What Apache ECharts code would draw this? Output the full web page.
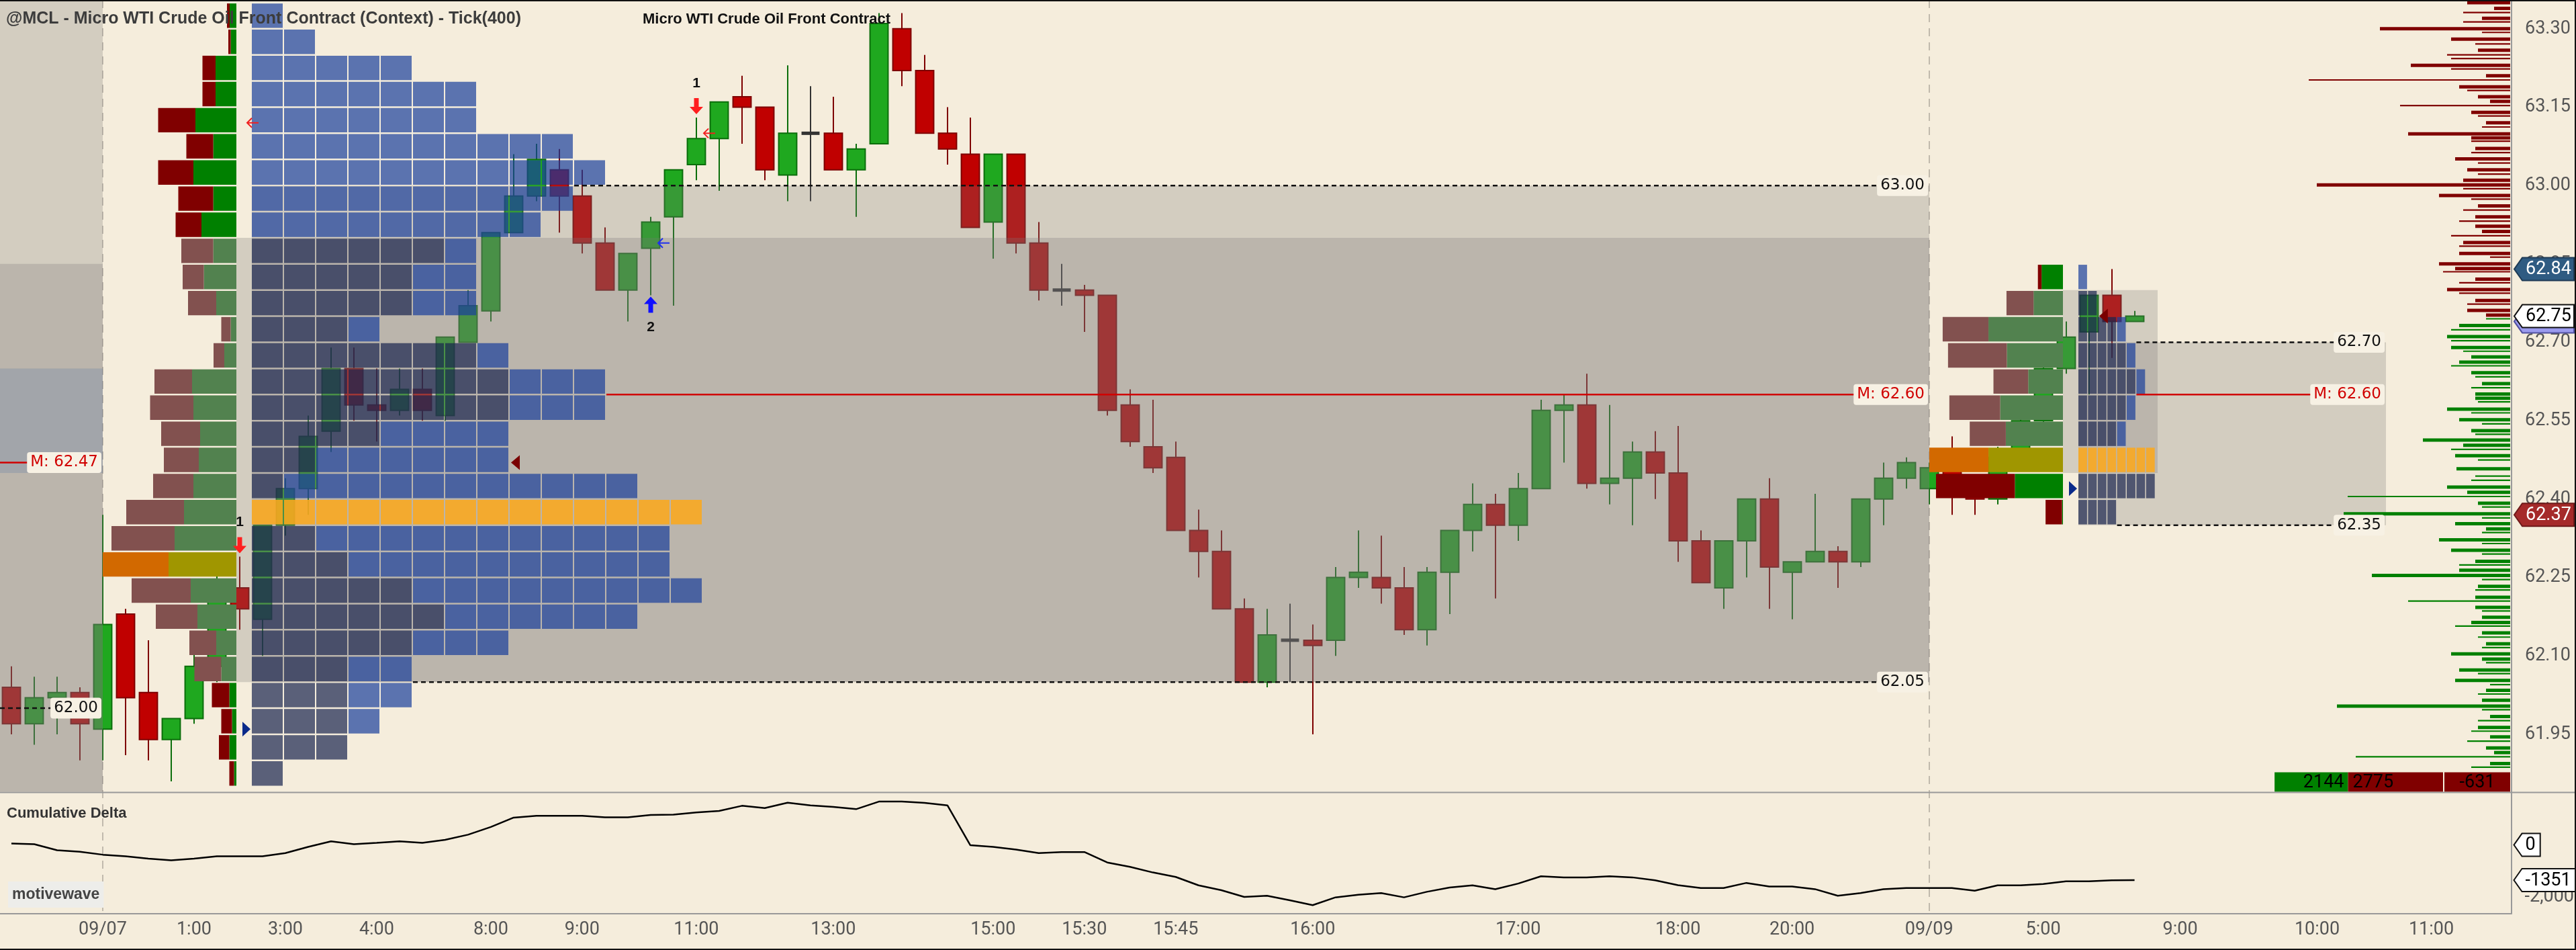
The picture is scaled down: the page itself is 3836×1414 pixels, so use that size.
<!DOCTYPE html>
<html><head><meta charset="utf-8">
<script src="https://cdn.jsdelivr.net/npm/echarts@6/dist/echarts.min.js"></script>
<style>html,body{margin:0;padding:0;background:#F5EDDC}#c{width:3836px;height:1414px}</style>
</head><body><div id="c"></div>
<script>
// ================= DATA =================
const tickSlots  = [4, 8, 12, 16, 21, 25, 30, 36, 43, 47, 51, 57, 66, 73, 78, 84, 89, 95, 101, 106];
const tickLabels = ['09/07','1:00','3:00','4:00','8:00','9:00','11:00','13:00','15:00','15:30','15:45','16:00','17:00','18:00','20:00','09/09','5:00','9:00','10:00','11:00'];
const SLOT_COUNT = 110;

const open = [62.04,61.97,62.02,62.03,61.96,62.18,62.03,61.94,61.98,62.08, 62.23,62.17,62.35,62.42,62.53,62.65,62.58,62.57,62.61,62.56,
 62.70,62.76,62.91,62.98,63.03,62.98,62.89,62.80,62.88,62.94, 63.04,63.09,63.17,63.15,63.02,63.10,63.10,63.03,63.08,63.30,
 63.22,63.10,63.06,62.93,63.06,62.89,62.80,62.80,62.79,62.58, 62.50,62.48,62.34,62.30,62.19,62.05,62.13,62.13,62.13,62.25,
 62.25,62.23,62.15,62.26,62.34,62.39,62.35,62.42,62.57,62.58, 62.43,62.44,62.49,62.45,62.32,62.23,62.32,62.40,62.26,62.28,
 62.30,62.28,62.40,62.44,62.42,62.46,62.42,62.40,62.48,62.55, 62.65,62.72,62.79,62.74];
const high = [62.08,62.06,62.06,62.04,62.37,62.19,62.13,61.98,62.11,62.26, 62.29,62.35,62.44,62.56,62.69,62.69,62.65,62.65,62.65,62.71,
 62.80,62.91,63.06,63.08,63.07,63.03,62.92,62.87,62.94,63.03, 63.13,63.16,63.21,63.15,63.23,63.19,63.17,63.08,63.33,63.33,
 63.25,63.15,63.13,63.06,63.06,62.93,62.85,62.81,62.79,62.61, 62.59,62.51,62.38,62.34,62.21,62.19,62.20,62.16,62.27,62.34,
 62.33,62.27,62.27,62.34,62.43,62.41,62.45,62.59,62.60,62.64, 62.58,62.51,62.53,62.54,62.34,62.32,62.40,62.44,62.28,62.41,
 62.31,62.40,62.47,62.48,62.47,62.52,62.44,62.50,62.58,62.66, 62.74,62.79,62.84,62.76];
const low = [61.95,61.93,61.95,61.90,61.90,61.91,61.90,61.86,61.97,62.05, 62.15,62.10,62.33,62.37,62.49,62.55,62.51,62.56,62.55,62.55,
 62.70,62.74,62.91,62.97,62.91,62.87,62.80,62.74,62.79,62.77, 63.01,62.99,63.08,63.01,62.97,62.97,63.03,62.94,63.08,63.19,
 63.10,63.04,62.92,62.86,62.87,62.78,62.77,62.72,62.56,62.50, 62.45,62.34,62.25,62.19,62.05,62.04,62.05,61.95,62.10,62.23,
 62.20,62.14,62.12,62.18,62.30,62.21,62.32,62.42,62.47,62.42, 62.39,62.35,62.40,62.28,62.24,62.19,62.25,62.19,62.17,62.28,
 62.23,62.27,62.35,62.42,62.39,62.37,62.37,62.39,62.46,62.53, 62.64,62.60,62.67,62.74];
const close = [61.97,62.02,62.03,61.97,62.16,62.02,61.94,61.98,62.08,62.23, 62.19,62.35,62.42,62.52,62.65,62.58,62.57,62.61,62.57,62.71,
 62.77,62.91,62.98,63.05,62.98,62.89,62.80,62.87,62.93,63.03, 63.09,63.16,63.15,63.03,63.10,63.10,63.03,63.07,63.31,63.22,
 63.10,63.07,62.92,63.06,62.89,62.80,62.80,62.79,62.57,62.51, 62.46,62.34,62.30,62.19,62.05,62.14,62.13,62.12,62.25,62.26,
 62.23,62.15,62.26,62.34,62.39,62.35,62.42,62.57,62.58,62.43, 62.44,62.49,62.45,62.32,62.24,62.32,62.40,62.27,62.28,62.30,
 62.28,62.40,62.44,62.47,62.46,62.42,62.40,62.48,62.55,62.65, 62.71,62.79,62.74,62.75];

const cumDelta = [51,26,-205,-264,-375,-435,-529,-588,-529,-435, -435,-435,-315,-77,136,26,77,136,77,196,
 392,690,1049,1117,1117,1117,1057,1057,1151,1160, 1245,1304,1501,1415,1620,1518,1458,1373,1662,1662,
 1611,1518,-8,-77,-179,-315,-273,-273,-673,-844, -1057,-1228,-1552,-1739,-1995,-1952,-2123,-2310,-2012,-1910,
 -1850,-2012,-1799,-1637,-1552,-1697,-1484,-1202,-1245,-1245, -1202,-1245,-1356,-1543,-1654,-1654,-1458,-1594,-1594,-1697,
 -1952,-1850,-1697,-1654,-1654,-1654,-1756,-1552,-1552,-1501, -1399,-1399,-1356,-1351];

// sessions (slot indices / prices)
const sessionStartSlot = [4, 84];
const sessionShadeEnd  = [84, 94];
const sessionLineEnd   = [84, 104];
const sessionVA    = [[62.05, 62.90], [62.45, 62.80]];
const sessionRange = [[62.05, 63.00], [62.35, 62.70]];
const sessionMid   = [62.60, 62.60];

// 09/07 profile rows (row low price), bid/ask volume, TPO counts, early-period TPO counts
const s1RowLow = [63.30,63.25,63.20,63.15,63.10,63.05,63.00,62.95,62.90,62.85,62.80,62.75,62.70,62.65,62.60,62.55,62.50,62.45,62.40,62.35,62.30,62.25,62.20,62.15,62.10,62.05,62.00,61.95,61.90,61.85];
const s1Bid = [8,7,39,39,111,80,105,104,77,95,63,84,28,32,112,129,116,104,120,172,188,196,176,124,80,80,52,32,31,14];
const s1Ask = [20,17,62,62,122,69,128,69,104,69,97,60,17,36,132,128,108,112,128,156,184,202,136,116,60,45,21,13,21,7];
const s1Tpo = [1,2,5,7,7,10,11,10,9,7,7,7,4,8,11,11,8,8,12,14,13,13,14,12,8,5,5,4,3,1];
const s1TpoEarly = [0,0,0,0,0,0,0,0,0,6,5,5,3,7,8,8,4,2,1,0,2,3,5,6,5,3,3,3,3,1];
// 09/09 profile
const s2RowLow = [62.80,62.75,62.70,62.65,62.60,62.55,62.50,62.45,62.40,62.35];
const s2Bid = [11,81,137,176,104,152,108,177,236,49];
const s2Ask = [64,88,223,168,104,188,171,223,144,3];
const s2Tpo = [1,2,5,6,7,6,5,8,8,4];
const s2TpoEarly = [0,2,4,5,6,5,4,0,8,4];

// previous session context (left edge)
const prevSessionEnd = 4;
const prevShadeBands = [[61.84, 63.355], [61.84, 62.85]];
const prevTintBand = [62.45, 62.65];
const prevMid = 62.47;
const prevLow = 62.00;

// signals
const signalSlots = [10, 30, 28];
const signalSides = ['sell', 'sell', 'buy'];
const signalNames = ['1', '1', '2'];
const signalRefPrice = [63.12, 63.10, 62.89];

// price ladder (size in lots)
const askDepthMain = [[63.350,32],[63.339,12],[63.320,21],[63.300,97],[63.280,44],[63.259,24],[63.230,74],[63.210,18],[63.189,38],[63.170,24],[63.161,15],[63.140,29],[63.120,18],[63.099,76],[63.091,29],[63.071,26],[63.051,41],[63.030,32],[63.010,35],[63.001,144],[62.981,53],[62.961,24],[62.940,26],[62.922,26],[62.912,21],[62.891,35],[62.870,38],[62.850,53],[62.841,41],[62.821,26],[62.801,47],[62.780,26],[62.761,32],[62.752,18]];
const askDepthThin = [[63.331,35],[63.313,35],[63.293,21],[63.271,26],[63.250,47],[63.243,44],[63.223,44],[63.202,150],[63.182,32],[63.153,82],[63.133,24],[63.112,21],[63.085,29],[63.063,29],[63.043,24],[63.022,24],[62.994,35],[62.974,29],[62.953,35],[62.932,38],[62.904,44],[62.884,38],[62.863,15],[62.835,50],[62.814,38],[62.794,38],[62.773,32]];
const bidDepthMain = [[62.732,38],[62.711,47],[62.690,44],[62.672,29],[62.662,38],[62.642,29],[62.621,21],[62.601,26],[62.593,26],[62.572,47],[62.552,38],[62.531,29],[62.513,65],[62.503,35],[62.483,41],[62.458,40],[62.423,47],[62.413,32],[62.392,24],[62.372,124],[62.353,41],[62.343,18],[62.322,53],[62.302,44],[62.281,26],[62.264,38],[62.254,103],[62.233,24],[62.212,26],[62.193,26],[62.174,21],[62.164,29],[62.144,21],[62.123,18],[62.104,44],[62.094,21],[62.073,38],[62.053,41],[62.034,18],[62.015,21],[62.004,129],[61.984,15],[61.963,24],[61.945,15],[61.924,18],[61.915,12],[61.894,15]];
const bidDepthThin = [[62.745,18],[62.724,44],[62.703,44],[62.683,35],[62.655,44],[62.634,26],[62.613,29],[62.586,24],[62.565,29],[62.544,21],[62.524,26],[62.495,44],[62.475,24],[62.444,26],[62.436,29],[62.405,121],[62.385,21],[62.364,21],[62.336,21],[62.315,21],[62.295,21],[62.274,38],[62.246,21],[62.226,26],[62.205,76],[62.186,21],[62.157,41],[62.136,24],[62.116,21],[62.087,18],[62.066,24],[62.045,15],[62.027,24],[61.997,21],[61.976,24],[61.956,29],[61.937,32],[61.907,115],[61.887,29]];

const sessionBuys = 2144, sessionSells = 2775;
const vwapTagPrice = 62.74;

// ================= LAYOUT / STYLE =================
const ROW = 0.05;
const PANEL_FLOOR = 61.84;
const PROFILE_W = 199, BOX_OFFSET = 23;
const TPO_PITCH = [48, 14.4];
const FONT = '"DejaVu Sans"';
const AXFONT = 'Roboto';
const SHADE = 'rgba(122,120,117,0.27)';
const C = {
  up:'#1FA81F', upLine:'#0B6E0B', dn:'#C00000', dnLine:'#7E0000', doji:'#333333',
  bidV:'#800000', askV:'#008000', bidM:'#82514F', askM:'#52824F', pocL:'#D26900', pocR:'#A09600',
  tpo:'rgba(25,63,155,0.7)', tpoEarly:'rgba(24,36,78,0.7)', tpoPoc:'rgba(250,168,30,0.88)'
};

const categories = Array.from({length: SLOT_COUNT}, (_, i) => {
  const k = tickSlots.indexOf(i); return k >= 0 ? tickLabels[k] : '';
});
const sessionRows = [s1RowLow, s2RowLow];
const sessionBid = [s1Bid, s2Bid], sessionAsk = [s1Ask, s2Ask];
const sessionTpo = [s1Tpo, s2Tpo], sessionEarly = [s1TpoEarly, s2TpoEarly];

const mctx = document.createElement('canvas').getContext('2d');
function tw(t, font){ mctx.font = font; return mctx.measureText(t).width; }
const eq = (a, b) => Math.abs(a - b) < 1e-6;

function H(params, api){
  const x0 = api.coord([0, 62.5])[0];
  const band = api.size([1, 0])[0];
  return { X: s => x0 + s * band, Y: p => api.coord([0, p])[1], band, cs: params.coordSys };
}
const R = (x, y, w, h, fill, extra) => ({type:'rect', shape:{x, y, width:w, height:h}, style:Object.assign({fill}, extra || {})});

function anchorOf(h, k){ return h.X(sessionStartSlot[k]) + PROFILE_W; }
function boxStartOf(h, k){ return anchorOf(h, k) + BOX_OFFSET; }
function tpoPocIndex(k){
  const t = sessionTpo[k], rows = sessionRows[k];
  const mid = (rows[0] + rows[rows.length-1]) / 2;
  let best = 0;
  t.forEach((v, i) => { if (v > t[best] || (v === t[best] && Math.abs(rows[i]-mid) < Math.abs(rows[best]-mid))) best = i; });
  return best;
}
function deltaPocIndex(k){
  const b = sessionBid[k], a = sessionAsk[k];
  let best = 0; b.forEach((v, i) => { if (v + a[i] > b[best] + a[best]) best = i; }); return best;
}
function levelRowCount(k, level){
  const rows = sessionRows[k], t = sessionTpo[k];
  const below = rows.findIndex(r => eq(r + ROW, level));
  if (below >= 0 && t[below] > 0) return t[below];
  const above = rows.findIndex(r => eq(r, level));
  return above >= 0 ? t[above] : 0;
}
function rowOf(k, price){ return sessionRows[k].findIndex(r => price >= r - 1e-6 && price < r + ROW - 1e-6); }
function lastSlotOf(k){ return k + 1 < sessionStartSlot.length ? sessionStartSlot[k+1] - 1 : close.length - 1; }

// ================= RENDERERS =================
function renderCandle(params, api){
  const i = api.value(0), o = api.value(1), c = api.value(2), l = api.value(3), hi = api.value(4);
  const x = api.coord([i, o])[0];
  const yo = api.coord([i, o])[1], yc = api.coord([i, c])[1], yl = api.coord([i, l])[1], yh = api.coord([i, hi])[1];
  const bw = api.size([1, 0])[0] * 0.79;
  const flat = eq(o, c), up = c > o;
  const stroke = flat ? C.doji : (up ? C.upLine : C.dnLine);
  const fill = flat ? C.doji : (up ? C.up : C.dn);
  const ch = [{type:'line', shape:{x1:x, y1:yh, x2:x, y2:yl}, style:{stroke, lineWidth:2}}];
  if (flat) ch.push(R(x - bw/2, yo - 2.5, bw, 5, C.doji));
  else ch.push(R(x - bw/2, Math.min(yo, yc), bw, Math.max(Math.abs(yo - yc), 1), fill, {stroke, lineWidth:2}));
  return {type:'group', children:ch};
}

function renderSessionLines(params, api){
  const h = H(params, api);
  return {type:'group', children: sessionStartSlot.map(s => ({type:'line',
    shape:{x1:h.X(s), y1:0, x2:h.X(s), y2:1360}, style:{stroke:'rgba(150,144,134,0.55)', lineWidth:2, lineDash:[12, 9]}}))};
}

function renderOverlays(params, api){
  const h = H(params, api), ch = [];
  const x0 = h.X(-0.5), x1 = h.X(prevSessionEnd);
  prevShadeBands.forEach(b => ch.push(R(x0, h.Y(b[1]), x1 - x0, h.Y(b[0]) - h.Y(b[1]), SHADE)));
  ch.push(R(x0, h.Y(prevTintBand[1]), x1 - x0, h.Y(prevTintBand[0]) - h.Y(prevTintBand[1]), 'rgba(40,90,160,0.17)'));
  sessionStartSlot.forEach((s, k) => {
    const a = anchorOf(h, k), b = boxStartOf(h, k);
    const va = sessionVA[k], rg = sessionRange[k];
    ch.push(R(a, h.Y(va[1]), h.X(sessionShadeEnd[k]) - a, h.Y(va[0]) - h.Y(va[1]), SHADE));
    ch.push(R(b, h.Y(rg[1]), h.X(sessionLineEnd[k]) - b, h.Y(rg[0]) - h.Y(rg[1]), SHADE));
  });
  return {type:'group', children:ch};
}

function renderTpo(params, api){
  const h = H(params, api), ch = [];
  sessionStartSlot.forEach((s, k) => {
    const bs = boxStartOf(h, k), pitch = TPO_PITCH[k], poc = tpoPocIndex(k);
    const gap = pitch > 20 ? 2 : 1.5;
    sessionRows[k].forEach((r, i) => {
      const yt = h.Y(r + ROW) + 1.25, yb = h.Y(r) - 1.25;
      for (let j = 0; j < sessionTpo[k][i]; j++) {
        const col = i === poc ? C.tpoPoc : (j < sessionEarly[k][i] ? C.tpoEarly : C.tpo);
        ch.push(R(bs + j * pitch, yt, pitch - gap, yb - yt, col));
      }
    });
  });
  return {type:'group', children:ch};
}

function renderDelta(params, api){
  const h = H(params, api), ch = [];
  sessionStartSlot.forEach((s, k) => {
    const a = anchorOf(h, k), bid = sessionBid[k], ask = sessionAsk[k];
    const maxTot = Math.max(...bid.map((v, i) => v + ask[i]));
    const sc = PROFILE_W / maxTot, poc = deltaPocIndex(k), va = sessionVA[k];
    sessionRows[k].forEach((r, i) => {
      const yt = h.Y(r + ROW) + 1.25, yb = h.Y(r) - 1.25;
      const wa = ask[i] * sc, wb = bid[i] * sc;
      const inVA = r >= va[0] - 1e-6 && r + ROW <= va[1] + 1e-6;
      const cg = i === poc ? C.pocR : (inVA ? C.askM : C.askV);
      const cr = i === poc ? C.pocL : (inVA ? C.bidM : C.bidV);
      ch.push(R(a - wa, yt, wa, yb - yt, cg));
      ch.push(R(a - wa - wb, yt, wb, yb - yt, cr));
    });
  });
  return {type:'group', children:ch};
}

function levelLabel(x, y, text, color){
  return {type:'text', x, y, style:{text, fill:color, font:'23px ' + FONT, align:'right', verticalAlign:'middle',
    backgroundColor:'#F7F1E4', padding:[5, 5, 3, 5], borderRadius:4}};
}
function levelLine(x1, x2, y, mid){
  return {type:'line', shape:{x1, y1:y, x2, y2:y}, style: mid ? {stroke:'#D00000', lineWidth:2.5} : {stroke:'#111', lineWidth:2.5, lineDash:[7, 5]}};
}

function renderLevels(params, api){
  const h = H(params, api), ch = [];
  const px0 = h.X(-0.5), px1 = h.X(prevSessionEnd);
  [[prevLow, false], [prevMid, true]].forEach(([p, mid]) => {
    ch.push(levelLine(px0, px1 - 4, h.Y(p), mid));
    ch.push(levelLabel(px1 - 2, h.Y(p), mid ? 'M: ' + p.toFixed(2) : p.toFixed(2), mid ? '#D00000' : '#111'));
  });
  sessionStartSlot.forEach((s, k) => {
    const bs = boxStartOf(h, k), pitch = TPO_PITCH[k], xe = h.X(sessionLineEnd[k]);
    const lv = [[sessionRange[k][1], false], [sessionRange[k][0], false], [sessionMid[k], true]];
    lv.forEach(([p, mid]) => {
      const xs = bs + pitch * levelRowCount(k, p);
      ch.push(levelLine(xs, xe - 4, h.Y(p), mid));
      ch.push(levelLabel(xe - 2, h.Y(p), mid ? 'M: ' + p.toFixed(2) : p.toFixed(2), mid ? '#D00000' : '#111'));
    });
    const a = anchorOf(h, k);
    const yo = h.Y(open[s]);
    ch.push({type:'polygon', shape:{points:[[a + 9, yo - 11], [a + 21, yo], [a + 9, yo + 11]]}, style:{fill:'#0A2A8A'}});
    const cl = close[lastSlotOf(k)], ri = rowOf(k, cl);
    const xc = bs + pitch * (ri >= 0 ? sessionTpo[k][ri] : 0) + 2, yc = h.Y(cl);
    ch.push({type:'polygon', shape:{points:[[xc, yc], [xc + 13, yc - 11], [xc + 13, yc + 11]]}, style:{fill:'#7A0000'}});
  });
  return {type:'group', children:ch};
}

function renderSignals(params, api){
  const h = H(params, api), ch = [];
  signalSlots.forEach((s, k) => {
    const x = h.X(s), sell = signalSides[k] === 'sell';
    if (sell) {
      const tip = h.Y(high[s]) - 5;
      ch.push({type:'polygon', shape:{points:[[x-3.5, tip-24], [x+3.5, tip-24], [x+3.5, tip-11], [x+10, tip-11], [x, tip], [x-10, tip-11], [x-3.5, tip-11]]}, style:{fill:'#FF1E1E'}});
      ch.push({type:'text', x, y: tip - 46, style:{text:signalNames[k], fill:'#111', font:'bold 21px "Liberation Sans"', align:'center', verticalAlign:'middle'}});
    } else {
      const tip = h.Y(low[s]) + 2;
      ch.push({type:'polygon', shape:{points:[[x-3.5, tip+24], [x+3.5, tip+24], [x+3.5, tip+11], [x+10, tip+11], [x, tip], [x-10, tip+11], [x-3.5, tip+11]]}, style:{fill:'#1010FF'}});
      ch.push({type:'text', x, y: tip + 46, style:{text:signalNames[k], fill:'#111', font:'bold 21px "Liberation Sans"', align:'center', verticalAlign:'middle'}});
    }
    const ya = h.Y(signalRefPrice[k]), xa = x + 11, col = sell ? '#F02020' : '#2030F0';
    ch.push({type:'polyline', shape:{points:[[xa + 7, ya - 7], [xa, ya], [xa + 7, ya + 7]]}, style:{stroke:col, lineWidth:2, fill:null}});
    ch.push({type:'line', shape:{x1:xa, y1:ya, x2:xa + 17, y2:ya}, style:{stroke:col, lineWidth:2}});
  });
  return {type:'group', children:ch};
}

function renderDepth(params, api){
  const h = H(params, api), ch = [];
  const ax = h.cs.x + h.cs.width - 2, sc = 2;
  [[askDepthMain, C.bidV, 5], [askDepthThin, C.bidV, 2.2], [bidDepthMain, C.askV, 5], [bidDepthThin, C.askV, 2.2]].forEach(([arr, col, th]) => {
    arr.forEach(([p, v]) => ch.push(R(ax - v * sc, h.Y(p) - th / 2, v * sc, th, col)));
  });
  const yb = h.Y(PANEL_FLOOR), ht = 29, k = 0.051;
  const dW = 98, sellsR = ax - dW - 2, sellsL = sellsR - sessionSells * k, buysL = sellsL - sessionBuys * k;
  ch.push(R(buysL, yb - ht, sellsL - buysL, ht, '#008000'));
  ch.push(R(sellsL, yb - ht, sellsR - sellsL, ht, '#800000'));
  ch.push(R(ax - dW, yb - ht, dW, ht, '#800000'));
  const f = '27px ' + AXFONT;
  ch.push({type:'text', x: sellsL - 6, y: yb - ht/2 + 1, style:{text:String(sessionBuys), fill:'#000', font:f, align:'right', verticalAlign:'middle'}});
  ch.push({type:'text', x: sellsL + 7, y: yb - ht/2 + 1, style:{text:String(sessionSells), fill:'#000', font:f, align:'left', verticalAlign:'middle'}});
  ch.push({type:'text', x: ax - dW/2, y: yb - ht/2 + 1, style:{text:String(sessionBuys - sessionSells), fill:'#000', font:f, align:'center', verticalAlign:'middle'}});
  return {type:'group', children:ch};
}

function tag(x, y, text, fill, stroke, color, right){
  const hh = 34, pt = 12, f = '27px ' + AXFONT;
  const xr = right != null ? right : x + pt + tw(text, f) + 12;
  return [
    {type:'polygon', shape:{points:[[x, y], [x + pt, y - hh/2], [xr, y - hh/2], [xr, y + hh/2], [x + pt, y + hh/2]]}, style:{fill, stroke, lineWidth:2}},
    {type:'text', x: x + pt + 5, y: y + 1, style:{text, fill:color, font:f, align:'left', verticalAlign:'middle'}}
  ];
}
function renderPriceTags(params, api){
  const h = H(params, api);
  const x = h.cs.x + h.cs.width + 4, right = 3833;
  const s2 = sessionStartSlot[1];
  const hiP = Math.max(...high.slice(s2)), loP = Math.min(...low.slice(s2)), last = close[close.length - 1];
  return {type:'group', children:[].concat(
    tag(x, h.Y(hiP), hiP.toFixed(2), '#2F5B82', '#1E3A55', '#fff', right),
    tag(x, h.Y(vwapTagPrice), vwapTagPrice.toFixed(2), '#9A9AEE', '#5050A0', '#333', right),
    tag(x, h.Y(last), last.toFixed(2), '#ffffff', '#111', '#000', right),
    tag(x, h.Y(loP), loP.toFixed(2), '#A52A2A', '#6E1A1A', '#fff', right)
  )};
}
function renderCdTags(params, api){
  const x = params.coordSys.x + params.coordSys.width + 4;
  const last = cumDelta[cumDelta.length - 1];
  return {type:'group', children:[].concat(
    tag(x, api.coord([0, 0])[1], '0', '#fff', '#111', '#000'),
    tag(x, api.coord([0, last])[1], String(last), '#fff', '#111', '#000')
  )};
}

const one = [[0, 62.5]];
const cs = (name, z, fn, extra) => Object.assign({type:'custom', name, xAxisIndex:0, yAxisIndex:0, z, silent:true, clip:false,
  data: one, encode:{x:0, y:1}, renderItem: fn}, extra || {});

const option = {
  animation: false,
  backgroundColor: '#F5EDDC',
  textStyle: {fontFamily: 'DejaVu Sans'},
  title: [
    {text:'@MCL - Micro WTI Crude Oil Front Contract (Context) - Tick(400)', left:9, top:16, padding:0,
     textStyle:{fontFamily:'Liberation Sans', fontSize:25, fontWeight:'bold', color:'#3c3c3c'}},
    {text:'Micro WTI Crude Oil Front Contract', left:957, top:18, padding:0,
     textStyle:{fontFamily:'Liberation Sans', fontSize:22, fontWeight:'bold', color:'#111'}},
    {text:'Cumulative Delta', left:10, top:1200, padding:0,
     textStyle:{fontFamily:'Liberation Sans', fontSize:22, fontWeight:'bold', color:'#333'}},
    {text:'motivewave', left:12, top:1312, padding:[8, 6, 8, 6], backgroundColor:'#EDEDEA',
     textStyle:{fontFamily:'Liberation Sans', fontSize:23, fontWeight:'bold', color:'#444'}}
  ],
  grid: [
    {left:0, right:96, top:0, height:1209.6},
    {left:0, right:96, top:1180, height:180}
  ],
  xAxis: [
    {type:'category', gridIndex:0, data:categories, show:false},
    {type:'category', gridIndex:1, data:categories,
     axisLine:{onZero:false, lineStyle:{color:'#999', width:2}}, axisTick:{show:false}, splitLine:{show:false},
     axisLabel:{interval:0, color:'#555', fontSize:27, fontFamily:AXFONT, margin:11}}
  ],
  yAxis: [
    {type:'value', gridIndex:0, position:'right', min:61.80, max:63.355, interval:0.15,
     axisLine:{show:true, lineStyle:{color:'#999', width:2}}, axisTick:{show:false}, splitLine:{show:false},
     axisLabel:{showMinLabel:false, showMaxLabel:false, margin:20, color:'#555', fontSize:27, fontFamily:AXFONT, formatter:v => v.toFixed(2)}},
    {type:'value', gridIndex:1, position:'right', min:-2640, max:2000, splitNumber:2,
     axisLine:{show:true, lineStyle:{color:'#999', width:2}}, axisTick:{show:false}, splitLine:{show:false},
     axisLabel:{showMinLabel:false, showMaxLabel:false, margin:20, color:'#555', fontSize:27, fontFamily:AXFONT}}
  ],
  graphic: [
    {type:'line', shape:{x1:0, y1:1179.5, x2:3836, y2:1179.5}, style:{stroke:'#999', lineWidth:2}, z:50},
    {type:'line', shape:{x1:0, y1:1, x2:3836, y2:1}, style:{stroke:'#111', lineWidth:2}, z:50},
    {type:'line', shape:{x1:3835, y1:0, x2:3835, y2:1414}, style:{stroke:'#111', lineWidth:2}, z:50},
    {type:'line', shape:{x1:0, y1:1413, x2:3836, y2:1413}, style:{stroke:'#111', lineWidth:2}, z:50}
  ],
  series: [
    cs('sessionLines', 1, renderSessionLines),
    {type:'custom', name:'candles', xAxisIndex:0, yAxisIndex:0, z:3, silent:true, clip:false,
     data: open.map((o, i) => [i, o, close[i], low[i], high[i]]), encode:{x:0, y:[1, 2, 3, 4]}, renderItem: renderCandle},
    cs('overlays', 4, renderOverlays),
    cs('tpo', 5, renderTpo),
    cs('delta', 6, renderDelta),
    cs('depth', 6, renderDepth, {data:[[SLOT_COUNT - 1, 62.5]]}),
    cs('levels', 7, renderLevels),
    cs('signals', 7, renderSignals),
    cs('priceTags', 9, renderPriceTags),
    {type:'line', name:'Cumulative Delta', xAxisIndex:1, yAxisIndex:1, data:cumDelta, showSymbol:false, z:3, silent:true,
     lineStyle:{color:'#000', width:2.5}},
    {type:'custom', name:'cdTags', xAxisIndex:1, yAxisIndex:1, z:9, silent:true, clip:false, data:[[0, 0]], encode:{x:0, y:1}, renderItem: renderCdTags}
  ]
};
const chart = echarts.init(document.getElementById('c'), null, {width:3836, height:1414});
chart.setOption(option);
</script></body></html>
